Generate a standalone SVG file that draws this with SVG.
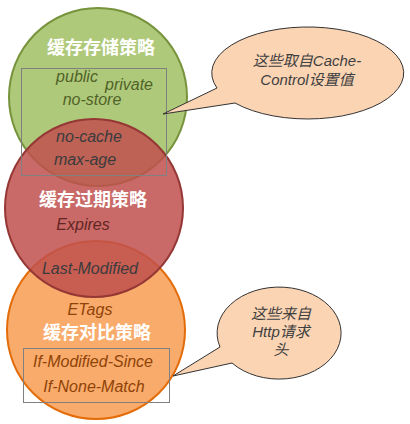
<svg xmlns="http://www.w3.org/2000/svg" width="410" height="424" viewBox="0 0 410 424">
<style>
.title{font-family:"Noto Sans CJK SC","Liberation Sans",sans-serif;font-weight:bold;font-size:18px;fill:#ffffff;text-anchor:middle}
.it{font-family:"Liberation Sans","Noto Sans CJK SC",sans-serif;font-style:italic;font-size:16px;text-anchor:middle}
.g{fill:#4f6228}.d{fill:#3b3b3e}.r{fill:#632523}.o{fill:#8f4307}
.box{fill:none;stroke:#808080;stroke-width:1}
.call{fill:#fbd4b4;stroke:#333333;stroke-width:1}
.ct{font-family:"Liberation Sans","Noto Sans CJK SC",sans-serif;font-style:italic;font-size:15px;fill:#3f3f3f;text-anchor:middle}
</style>
<rect width="410" height="424" fill="#ffffff"/>
<g id="storage">
<circle cx="98" cy="97" r="89" fill="#9bbb59" fill-opacity="0.8" stroke="#77933c" stroke-width="2"/>
</g>
<g id="compare">
<circle cx="96" cy="330" r="89" fill="#f79646" fill-opacity="0.8" stroke="#e36c09" stroke-width="2"/>
</g>
<g id="expire">
<circle cx="94" cy="208" r="89" fill="#c0504d" fill-opacity="0.85" stroke="#953735" stroke-width="2"/>
</g>
<g id="labels">
<text class="title" x="101" y="54">缓存存储策略</text>
<text class="it g" x="77" y="82">public</text>
<text class="it g" x="129" y="90">private</text>
<text class="it g" x="92" y="105">no-store</text>
<text class="it d" x="89" y="142">no-cache</text>
<text class="it d" x="85" y="165">max-age</text>
<text class="title" x="93" y="206">缓存过期策略</text>
<text class="it r" x="83" y="230">Expires</text>
<text class="it d" x="90" y="274">Last-Modified</text>
<text class="it o" x="90" y="315">ETags</text>
<text class="title" x="97" y="339">缓存对比策略</text>
<text class="it o" x="93" y="367">If-Modified-Since</text>
<text class="it o" x="94" y="392">If-None-Match</text>
</g>
<g id="connectors">
<rect class="box" x="21.5" y="68.5" width="145" height="107"/>
<rect class="box" x="23.5" y="348.5" width="146" height="54"/>
</g>
<g id="callout1">
<path class="call" d="M217,88 L163,114 L235,103 A96,46 0 1 0 217,88 Z"/>
<text class="ct" x="307" y="66">这些取自Cache-</text>
<text class="ct" x="307" y="85">Control设置值</text>
</g>
<g id="callout2">
<path class="call" d="M220,347 L173,376 L232,363 A62,46 0 1 0 220,347 Z"/>
<text class="ct" x="281" y="319">这些来自</text>
<text class="ct" x="281" y="337">Http请求</text>
<text class="ct" x="281" y="355">头</text>
</g>
</svg>
